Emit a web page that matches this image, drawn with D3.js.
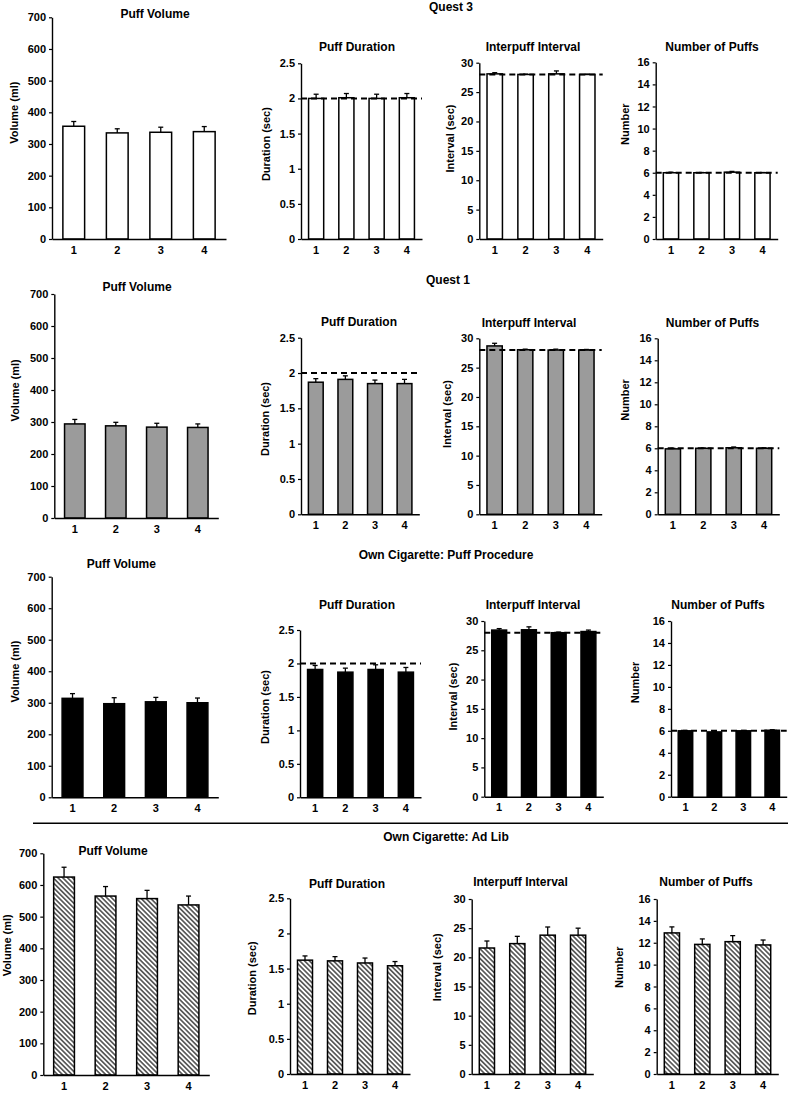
<!DOCTYPE html>
<html>
<head>
<meta charset="utf-8">
<script src="https://cdn.jsdelivr.net/npm/d3@7/dist/d3.min.js"></script>
<style>
  html, body { margin: 0; padding: 0; background: #fff; }
  svg text { font-family: "Liberation Sans", Arial, Helvetica, sans-serif; font-weight: bold; fill: #000; }
</style>
</head>
<body>
<svg id="chart" width="793" height="1093"></svg>
<script>
// ---------- DATA ----------
const categories = ["1", "2", "3", "4"];
const sectionTitles = ["Quest 3", "Quest 1", "Own Cigarette: Puff Procedure", "Own Cigarette: Ad Lib"];
const panelTitles = ["Puff Volume", "Puff Duration", "Interpuff Interval", "Number of Puffs"];
const yAxisLabels = ["Volume (ml)", "Duration (sec)", "Interval (sec)", "Number"];
const volumeTicks = [0, 100, 200, 300, 400, 500, 600, 700];
const durationTicks = [0, 0.5, 1, 1.5, 2, 2.5];
const intervalTicks = [0, 5, 10, 15, 20, 25, 30];
const numberTicks = [0, 2, 4, 6, 8, 10, 12, 14, 16];
const referenceValues = [null, 2, 28, 6];

// Quest 3
const q3Volume = [356, 335, 337, 339];
const q3VolumeSE = [15, 13, 16, 16];
const q3Duration = [2.0, 2.01, 2.0, 2.01];
const q3DurationSE = [0.06, 0.06, 0.06, 0.06];
const q3Interval = [28.1, 28.0, 28.1, 28.0];
const q3IntervalSE = [0.2, 0.05, 0.5, 0.05];
const q3Number = [6.0, 6.0, 6.05, 6.0];
const q3NumberSE = [0.05, 0.02, 0.07, 0.02];

// Quest 1
const q1Volume = [294, 288, 284, 283];
const q1VolumeSE = [14, 11, 12, 11];
const q1Duration = [1.87, 1.91, 1.85, 1.85];
const q1DurationSE = [0.05, 0.05, 0.05, 0.06];
const q1Interval = [28.7, 28.05, 28.0, 28.0];
const q1IntervalSE = [0.45, 0.1, 0.15, 0.1];
const q1Number = [5.95, 6.0, 6.05, 6.0];
const q1NumberSE = [0.05, 0.03, 0.07, 0.05];

// Own cigarette: puff procedure
const ppVolume = [314, 297, 303, 300];
const ppVolumeSE = [15, 19, 14, 15];
const ppDuration = [1.91, 1.87, 1.91, 1.87];
const ppDurationSE = [0.06, 0.06, 0.07, 0.07];
const ppInterval = [28.45, 28.5, 28.0, 28.2];
const ppIntervalSE = [0.25, 0.5, 0.1, 0.25];
const ppNumber = [6.0, 5.9, 6.0, 6.05];
const ppNumberSE = [0.03, 0.05, 0.03, 0.05];

// Own cigarette: ad lib
const alVolume = [625, 565, 557, 537];
const alVolumeSE = [31, 30, 26, 28];
const alDuration = [1.62, 1.61, 1.58, 1.54];
const alDurationSE = [0.06, 0.06, 0.07, 0.06];
const alInterval = [21.6, 22.35, 23.8, 23.8];
const alIntervalSE = [1.2, 1.25, 1.4, 1.2];
const alNumber = [12.9, 11.85, 12.1, 11.8];
const alNumberSE = [0.55, 0.5, 0.55, 0.45];

// ---------- LAYOUT / STYLE (not data) ----------
const tickSets = [volumeTicks, durationTicks, intervalTicks, numberTicks];
const means = [
  [q3Volume, q3Duration, q3Interval, q3Number],
  [q1Volume, q1Duration, q1Interval, q1Number],
  [ppVolume, ppDuration, ppInterval, ppNumber],
  [alVolume, alDuration, alInterval, alNumber]
];
const errs = [
  [q3VolumeSE, q3DurationSE, q3IntervalSE, q3NumberSE],
  [q1VolumeSE, q1DurationSE, q1IntervalSE, q1NumberSE],
  [ppVolumeSE, ppDurationSE, ppIntervalSE, ppNumberSE],
  [alVolumeSE, alDurationSE, alIntervalSE, alNumberSE]
];
const showReference = [true, true, true, false];
const fills = ["#ffffff", "#9b9b9b", "#000000", "url(#hatch)"];
const sectionPos = [[451, 7], [448, 280], [446, 555], [446, 837]];
// [x0, x1, yTop, yBottom, titleX, titleY, labelX, labelFrac]
const layout = [
  [[52, 226, 17.3, 239, 155, 13.3, 14, 0.57], [301, 422, 63.3, 239, 357, 46.7, 266, 0.54], [479.3, 602.7, 62.7, 239, 533, 46.7, 450, 0.57], [655.7, 777.7, 62.3, 239, 712, 46.7, 625, 0.65]],
  [[54.3, 218.3, 294, 518, 137, 286.7, 15, 0.57], [301, 419.3, 337.7, 514.3, 359, 322, 265, 0.54], [479.3, 601.7, 338.3, 514.3, 529, 322.5, 447, 0.57], [657.7, 779.3, 338.3, 514.3, 712.5, 322.5, 625, 0.65]],
  [[51.7, 218.3, 576.7, 797.3, 121.3, 564, 15, 0.57], [300, 421, 630, 797.3, 357, 605, 265, 0.54], [484.3, 603.3, 621, 796.7, 533, 605, 453, 0.57], [671, 786.7, 621, 796.7, 718, 605, 635, 0.65]],
  [[43.3, 209.3, 853.3, 1075, 113, 850.7, 7.5, 0.585], [290, 410, 898.3, 1074, 347, 883.3, 252, 0.545], [471.7, 593.3, 899, 1074, 520.5, 881.7, 437, 0.61], [656.7, 778.3, 899, 1074, 706, 881.7, 619.5, 0.61]]
];

const svg = d3.select("#chart");
const defs = svg.append("defs");
defs.append("pattern")
  .attr("id", "hatch")
  .attr("patternUnits", "userSpaceOnUse")
  .attr("width", 3.4).attr("height", 3.4)
  .attr("patternTransform", "rotate(45)")
  .call(p => {
    p.append("rect").attr("width", 3.4).attr("height", 3.4).attr("fill", "#fff");
    p.append("line").attr("x1", 0).attr("x2", 3.4).attr("y1", 1.7).attr("y2", 1.7)
      .attr("stroke", "#000").attr("stroke-width", 1.1);
  });

// separator line above ad lib section
svg.append("line")
  .attr("x1", 33).attr("x2", 788).attr("y1", 823.3).attr("y2", 823.3)
  .attr("stroke", "#000").attr("stroke-width", 1.4);

sectionTitles.forEach((t, r) => {
  svg.append("text")
    .attr("x", sectionPos[r][0]).attr("y", sectionPos[r][1])
    .attr("dy", "0.36em")
    .attr("text-anchor", "middle")
    .attr("font-size", 12)
    .text(t);
});

for (let r = 0; r < 4; r++) {
  for (let p = 0; p < 4; p++) {
    const [x0, x1, yTop, yBot, tx, ty, lx, lf] = layout[r][p];
    const ticks = tickSets[p];
    const yMax = ticks[ticks.length - 1];
    const x = d3.scaleBand().domain(categories).range([x0, x1]).paddingInner(0.5).paddingOuter(0.25);
    const y = d3.scaleLinear().domain([0, yMax]).range([yBot, yTop]);
    const g = svg.append("g");
    const vals = means[r][p];
    const se = errs[r][p];
    const rows = categories.map((c, i) => ({ c, v: vals[i], e: se[i] }));

    // bars
    g.selectAll("rect.bar").data(rows).enter().append("rect")
      .attr("class", "bar")
      .attr("x", d => x(d.c))
      .attr("width", x.bandwidth())
      .attr("y", d => y(d.v))
      .attr("height", d => y(0) - y(d.v))
      .attr("fill", fills[r])
      .attr("stroke", "#000")
      .attr("stroke-width", 1.5);

    // error bars (upper only)
    const eb = g.selectAll("g.eb").data(rows).enter().append("g").attr("class", "eb");
    eb.append("line")
      .attr("x1", d => x(d.c) + x.bandwidth() / 2)
      .attr("x2", d => x(d.c) + x.bandwidth() / 2)
      .attr("y1", d => y(d.v))
      .attr("y2", d => y(d.v + d.e))
      .attr("stroke", "#000").attr("stroke-width", 1.3);
    eb.append("line")
      .attr("x1", d => x(d.c) + x.bandwidth() / 2 - 2.5)
      .attr("x2", d => x(d.c) + x.bandwidth() / 2 + 2.5)
      .attr("y1", d => y(d.v + d.e))
      .attr("y2", d => y(d.v + d.e))
      .attr("stroke", "#000").attr("stroke-width", 1.3);

    // reference dashed line
    if (showReference[r] && referenceValues[p] !== null) {
      g.append("line")
        .attr("x1", x0).attr("x2", x1)
        .attr("y1", y(referenceValues[p])).attr("y2", y(referenceValues[p]))
        .attr("stroke", "#000").attr("stroke-width", 2)
        .attr("stroke-dasharray", "6,4");
    }

    // axes
    const ya = g.append("g").attr("transform", `translate(${x0},0)`)
      .call(d3.axisLeft(y).tickValues(ticks).tickSize(3).tickSizeOuter(0).tickPadding(3).tickFormat(d => String(d)));
    const xa = g.append("g").attr("transform", `translate(0,${yBot})`)
      .call(d3.axisBottom(x).tickSize(0).tickPadding(7));
    [ya, xa].forEach(a => {
      a.select(".domain").attr("stroke", "#000").attr("stroke-width", 1.4);
      a.selectAll(".tick line").attr("stroke", "#000").attr("stroke-width", 1.2);
      a.selectAll(".tick text").attr("font-size", 11).attr("font-family", null).attr("fill", "#000");
    });
    ya.attr("font-family", null);
    xa.attr("font-family", null);

    // panel title
    g.append("text")
      .attr("x", tx).attr("y", ty).attr("dy", "0.36em")
      .attr("text-anchor", "middle").attr("font-size", 12)
      .text(panelTitles[p]);

    // y-axis label
    const ly = yBot - lf * (yBot - yTop);
    g.append("text")
      .attr("transform", `translate(${lx},${ly}) rotate(-90)`)
      .attr("dy", "0.36em")
      .attr("text-anchor", "middle").attr("font-size", 11)
      .text(yAxisLabels[p]);
  }
}
</script>
</body>
</html>
